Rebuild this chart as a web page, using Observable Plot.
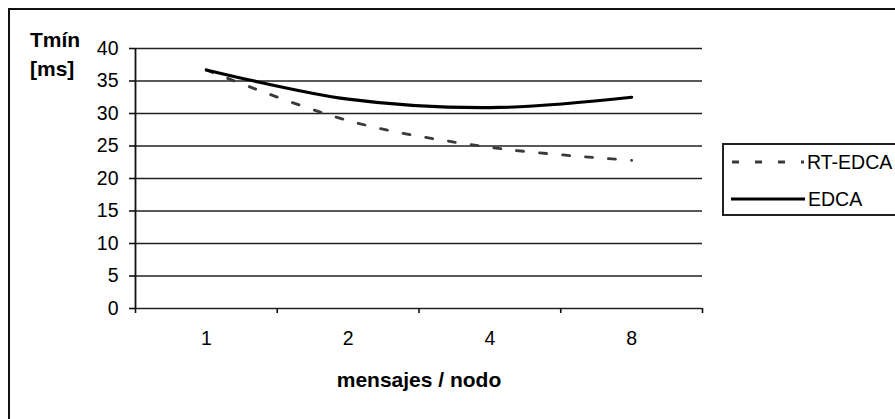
<!DOCTYPE html>
<html>
<head>
<meta charset="utf-8">
<script src="https://cdn.jsdelivr.net/npm/d3@7"></script>
<script src="https://cdn.jsdelivr.net/npm/@observablehq/plot@0.6"></script>
<style>
  html, body { margin: 0; padding: 0; background: #fff; }
  #wrap { position: relative; width: 895px; height: 419px; overflow: hidden; font-family: "Liberation Sans", Arial, sans-serif; color: #000; }
  #frame { position: absolute; left: 8px; top: 8px; width: 950px; height: 500px; border: 2px solid #111; box-sizing: border-box; }
  #chart { position: absolute; left: 0; top: 0; }
  .ytitle { position: absolute; left: 30px; font-weight: bold; font-size: 21px; line-height: 1; }
  #legend { position: absolute; left: 722px; top: 143px; width: 220px; height: 73px; border: 2px solid #222; box-sizing: border-box; background: #fff; }
  .lg { position: absolute; font-size: 19.5px; line-height: 1; }
</style>
</head>
<body>
<div id="wrap">
  <div id="frame"></div>
  <div id="chart"></div>
  <div class="ytitle" style="top:29px">Tmín</div>
  <div class="ytitle" style="top:58px">[ms]</div>
  <div id="legend">
    <svg width="90" height="70" style="position:absolute;left:0;top:0">
      <line x1="8" x2="80" y1="17" y2="17" stroke="#3a3a3a" stroke-width="2.8" stroke-dasharray="7,16"></line>
      <line x1="7" x2="81" y1="54" y2="54" stroke="#000" stroke-width="3.2"></line>
    </svg>
    <div class="lg" style="left:83px;top:8px">RT-EDCA</div>
    <div class="lg" style="left:84px;top:45px">EDCA</div>
  </div>
</div>
<script>
const categories = ["1", "2", "4", "8"];
const rtEdca = [36.7, 28.9, 24.8, 22.8];
const edca = [36.7, 32.2, 30.9, 32.5];
const yTicks = [0, 5, 10, 15, 20, 25, 30, 35, 40];

const rows = categories.map((c, i) => ({cat: c, pos: i + 1, rt: rtEdca[i], edca: edca[i]}));
const bandEdges = d3.range(0.5, categories.length + 1, 1);

const chart = Plot.plot({
  width: 895,
  height: 419,
  marginLeft: 135,
  marginRight: 193,
  marginTop: 48,
  marginBottom: 111,
  style: {fontFamily: "'Liberation Sans', Arial, sans-serif", background: "transparent", color: "#000"},
  x: {domain: [0.5, categories.length + 0.5], axis: null},
  y: {domain: [0, 40], axis: null},
  marks: [
    Plot.ruleY(yTicks, {stroke: "#222", strokeWidth: 1.6}),
    Plot.ruleX([0.5], {y1: 0, y2: 40, stroke: "#111", strokeWidth: 1.8}),
    Plot.axisY({ticks: yTicks, tickSize: 6, tickPadding: 11, fontSize: 19.5, stroke: "#111", strokeWidth: 1.6, label: null, tickFormat: d => String(d)}),
    Plot.axisX({ticks: bandEdges, tickSize: 5, tickFormat: () => "", stroke: "#111", strokeWidth: 1.6, label: null}),
    Plot.text(rows, {x: "pos", y: 0, dy: 30, text: "cat", fontSize: 19.5, fill: "#000"}),
    Plot.text(["mensajes / nodo"], {frameAnchor: "bottom", dy: 78, text: d => d, fontSize: 21, fontWeight: "bold", fill: "#000"}),
    Plot.line(rows, {x: "pos", y: "rt", curve: "catmull-rom", stroke: "#3a3a3a", strokeWidth: 2.8, strokeDasharray: "7,16"}),
    Plot.line(rows, {x: "pos", y: "edca", curve: "catmull-rom", stroke: "#000", strokeWidth: 3.2})
  ]
});
document.getElementById("chart").appendChild(chart);
</script>
</body>
</html>
